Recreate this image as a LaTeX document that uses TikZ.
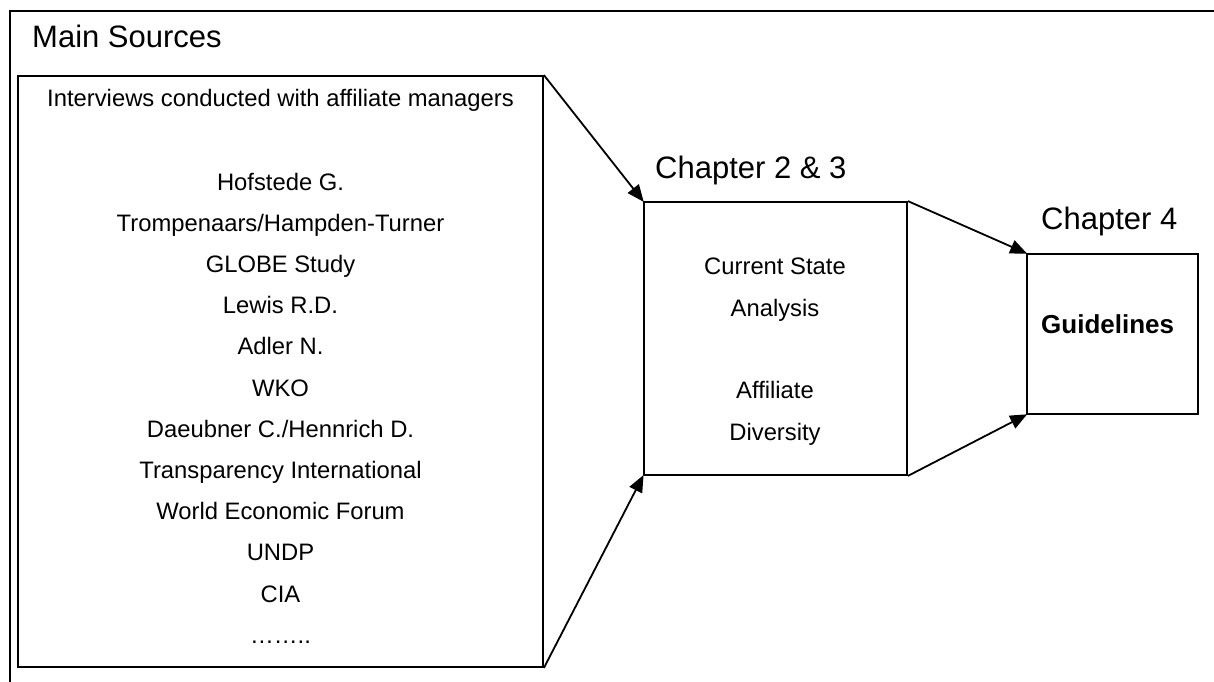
\documentclass[tikz,border=0pt]{standalone}
\usepackage{fontspec}
\setmainfont{Liberation Sans}
\usetikzlibrary{arrows.meta}
\tikzset{
  box/.style={draw, line width=1.8pt, inner sep=0pt},
  head/.style={anchor=base west, inner sep=0pt, font=\fontsize{31}{36}\selectfont},
  item/.style={anchor=base, inner sep=0pt, font=\fontsize{23.8}{28}\selectfont},
  conn/.style={line width=1.8pt, -{Triangle[length=17pt,width=14pt]}, shorten >=-1pt},
}
\begin{document}
\begin{tikzpicture}[x=1pt,y=-1pt]
\useasboundingbox (0,0) rectangle (1214,681);
% outer frame (top and left edges only visible)
\draw[line width=2.4pt] (10,690) -- (10,11) -- (1220,11);
\node[head] (ms) at (32,47) {Main Sources};
% boxes
\node[box, minimum width=525pt, minimum height=591pt] (src) at (280.5,371.5) {};
\node[box, minimum width=263pt, minimum height=273pt] (mid) at (775.5,338.5) {};
\node[box, line width=1.5pt, minimum width=171pt, minimum height=160pt] (gl) at (1112.5,334) {};
% headings
\node[head] (c23) at (655,178) {Chapter 2 \& 3};
\node[head] (c4) at (1041,229) {Chapter 4};
% source list
\node[item] (i0) at (280.5,106) {Interviews conducted with affiliate managers};
\node[item] (i1) at (280.5,190) {Hofstede G.};
\node[item] (i2) at (280.5,231.2) {Trompenaars/Hampden-Turner};
\node[item] (i3) at (280.5,272.4) {GLOBE Study};
\node[item] (i4) at (280.5,313.6) {Lewis R.D.};
\node[item] (i5) at (280.5,354.8) {Adler N.};
\node[item] (i6) at (280.5,396) {WKO};
\node[item] (i7) at (280.5,437.2) {Daeubner C./Hennrich D.};
\node[item] (i8) at (280.5,478.4) {Transparency International};
\node[item] (i9) at (280.5,519.6) {World Economic Forum};
\node[item] (i10) at (280.5,560.8) {UNDP};
\node[item] (i11) at (280.5,602) {CIA};
\node[item] (i12) at (280.5,643.2) {……..};
% middle texts
\node[item] (m1) at (775,274) {Current State};
\node[item] (m2) at (775,316) {Analysis};
\node[item] (m3) at (775,398) {Affiliate};
\node[item] (m4) at (775,440) {Diversity};
% guidelines
\node[anchor=base west, inner sep=0pt, font=\fontsize{26}{30}\selectfont\bfseries] (g) at (1041,333) {Guidelines};
% connectors
\draw[conn] (src.north east) -- (mid.north west);
\draw[conn] (src.south east) -- (mid.south west);
\draw[conn] (mid.north east) -- (gl.north west);
\draw[conn] (mid.south east) -- (gl.south west);
\end{tikzpicture}
\end{document}
